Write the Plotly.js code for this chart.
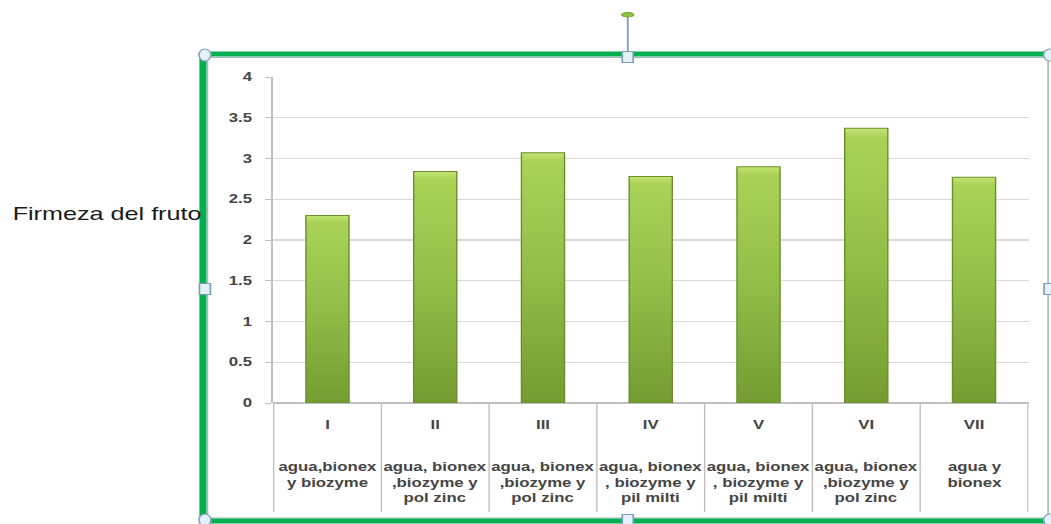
<!DOCTYPE html>
<html><head><meta charset="utf-8">
<script src="https://cdn.plot.ly/plotly-3.0.1.min.js"></script>
<style>
html,body{margin:0;padding:0;background:#fff;overflow:hidden;}
#wrap{width:1051px;height:524px;overflow:hidden;position:relative;}
#chart{width:751px;height:524px;transform:scaleX(1.399467);transform-origin:0 0;}
</style></head><body><div id="wrap"><div id="chart"></div></div>
<script>
// ---- data ----
const categories = ['I', 'II', 'III', 'IV', 'V', 'VI', 'VII'];
const firmeza = [2.30, 2.84, 3.07, 2.78, 2.90, 3.37, 2.77];
const descriptions = [
  'agua,bionex<br>y biozyme',
  'agua, bionex<br>,biozyme y<br>pol zinc',
  'agua, bionex<br>,biozyme y<br>pol zinc',
  'agua, bionex<br>, biozyme y<br>pil milti',
  'agua, bionex<br>, biozyme y<br>pil milti',
  'agua, bionex<br>,biozyme y<br>pol zinc',
  'agua y<br>bionex'
];
const yTickValues = [0, 0.5, 1, 1.5, 2, 2.5, 3, 3.5, 4];
const yTickLabels = ['0', '0.5', '1', '1.5', '2', '2.5', '3', '3.5', '4'];
const yTitle = 'Firmeza del fruto';

// ---- geometry (screen is stretched horizontally by K) ----
const W = 751, H = 524, K = 1051 / 751;
const L = 273 / K, R = W - 1029 / K, T = 77, B = 524 - 403;
const plotW = W - L - R, plotH = H - T - B;
const px = a => (a / K - L) / plotW;
const py = b => (403 - b) / plotH;

const font = 'Liberation Sans, Arial, sans-serif';
const axisGrey = '#bfbfbf';
const textGrey = '#454545';

const shapes = [];
// category dividers below the axis
for (let i = 0; i <= categories.length; i++) {
  shapes.push({type: 'line', xref: 'x', yref: 'paper', x0: i - 0.5, x1: i - 0.5,
    y0: 0, y1: py(512), line: {color: axisGrey, width: 1}, layer: 'below'});
}
// inner grey border + green selection frame
shapes.push({type: 'rect', xref: 'paper', yref: 'paper', x0: px(207.5), x1: px(1048.5),
  y0: py(518), y1: py(57.5), line: {color: '#a9b4bf', width: 1.2}});
shapes.push({type: 'rect', xref: 'paper', yref: 'paper', x0: px(203), x1: px(1070),
  y0: py(521), y1: py(54), line: {color: '#00b050', width: 5}});
// rotation handle stem
shapes.push({type: 'line', xref: 'paper', yref: 'paper', x0: px(628), x1: px(628),
  y0: py(54), y1: py(17), line: {color: '#7f9db9', width: 1.3}});
shapes.push({type: 'circle', xref: 'paper', yref: 'paper', x0: px(622), x1: px(634),
  y0: py(17), y1: py(12.5), fillcolor: '#8cc63f', line: {color: '#6aa329', width: 1}});
// corner handles (circles) and side handles (squares)
const corners = [[205, 55], [1050, 55], [205, 520], [1050, 520]];
corners.forEach(([cx, cy]) => shapes.push({type: 'circle', xref: 'paper', yref: 'paper',
  x0: px(cx - 6), x1: px(cx + 6), y0: py(cy + 6), y1: py(cy - 6),
  fillcolor: '#e3f2f9', line: {color: '#8da3ba', width: 1.2}}));
const sides = [[628, 57], [205, 289], [628, 520], [1050, 289]];
sides.forEach(([cx, cy]) => shapes.push({type: 'rect', xref: 'paper', yref: 'paper',
  x0: px(cx - 5.5), x1: px(cx + 5.5), y0: py(cy + 5.5), y1: py(cy - 5.5),
  fillcolor: '#e3f2f9', line: {color: '#7f9db9', width: 1.2}}));

const annotations = categories.map((c, i) => ({
  xref: 'x', yref: 'paper', x: c, y: py(458), xanchor: 'center', yanchor: 'top',
  text: descriptions[i], showarrow: false, align: 'center',
  font: {family: font, size: 12, color: textGrey, weight: 'bold'}
}));
annotations.push({xref: 'paper', yref: 'paper', x: px(10), y: py(214),
  xanchor: 'left', yanchor: 'middle', text: yTitle, showarrow: false,
  font: {family: font, size: 18, color: '#1a1a1a'}});

const data = [{
  type: 'bar', x: categories, y: firmeza, width: 0.4,
  marker: {color: '#8fb944', line: {color: '#6b8f2b', width: 1}},
  hoverinfo: 'x+y'
}];

const layout = {
  width: W, height: H,
  margin: {l: L, r: R, t: T, b: B, pad: 0},
  paper_bgcolor: '#ffffff', plot_bgcolor: '#ffffff',
  showlegend: false,
  xaxis: {type: 'category', showgrid: false, zeroline: false, showline: false,
    ticks: '', ticklabelstandoff: 13,
    tickfont: {family: font, size: 12, color: textGrey, weight: 'bold'}},
  yaxis: {range: [0, 4], tickvals: yTickValues, ticktext: yTickLabels,
    showgrid: true, gridcolor: '#d9d9d9', gridwidth: 1.3,
    zeroline: true, zerolinecolor: axisGrey, zerolinewidth: 1.3,
    showline: true, linecolor: axisGrey, linewidth: 1,
    ticks: 'outside', ticklen: 4.5, tickcolor: axisGrey, ticklabelstandoff: 7,
    tickfont: {family: font, size: 12, color: textGrey, weight: 'bold'}},
  shapes: shapes, annotations: annotations, bargap: 0.6
};

Plotly.newPlot('chart', data, layout, {displayModeBar: false, staticPlot: true}).then(gd => {
  const svg = gd.querySelector('svg.main-svg');
  const defs = svg.querySelector('defs');
  const ns = 'http://www.w3.org/2000/svg';
  const grad = document.createElementNS(ns, 'linearGradient');
  grad.setAttribute('id', 'barGrad');
  grad.setAttribute('x1', '0'); grad.setAttribute('y1', '0');
  grad.setAttribute('x2', '0'); grad.setAttribute('y2', '1');
  [['0', '#c4e473'], ['0.035', '#a9d257'], ['0.5', '#92bd47'], ['1', '#749c32']].forEach(([o, c]) => {
    const s = document.createElementNS(ns, 'stop');
    s.setAttribute('offset', o); s.setAttribute('stop-color', c);
    grad.appendChild(s);
  });
  defs.appendChild(grad);
  gd.querySelectorAll('g.trace.bars path').forEach(p => { p.style.fill = 'url(#barGrad)'; });
});
</script></body></html>
